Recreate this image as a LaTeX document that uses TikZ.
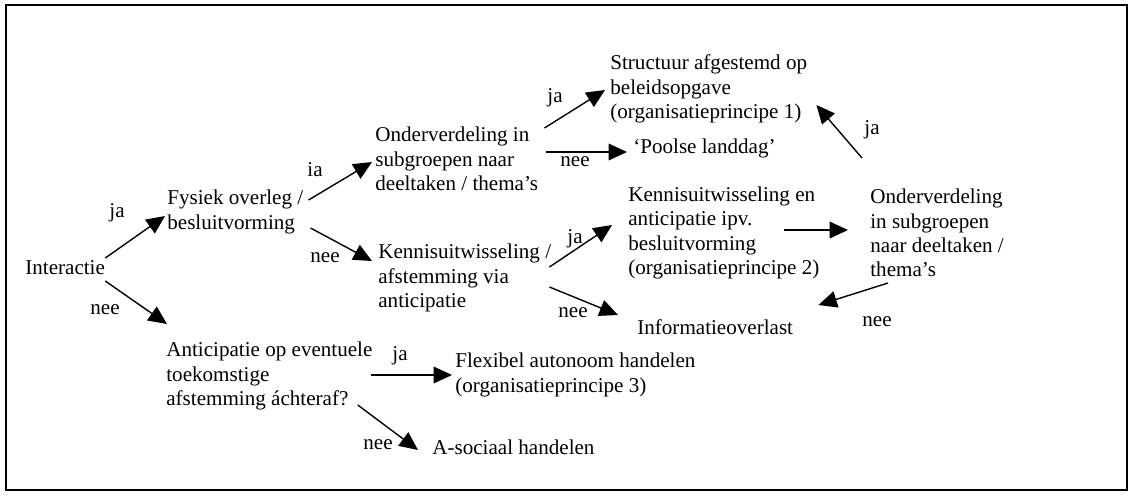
\documentclass[tikz,border=0pt]{standalone}
\usepackage{fontspec}
\setmainfont{Liberation Serif}
\usetikzlibrary{arrows.meta, calc}
\tikzset{
  txt/.style={anchor=west, inner sep=0pt, align=left, font=\fontsize{12}{13.9}\selectfont},
  lab/.style={inner sep=0pt, font=\fontsize{12}{13.9}\selectfont},
  arr/.style={-{Triangle[length=10.5pt,width=9.5pt]}, line width=0.8pt},
  frame/.style={line width=1.1pt}
}

\begin{document}
\begin{tikzpicture}[x=0.02cm, y=-0.02cm]
  \useasboundingbox (0,0) rectangle (1132,495);
  \draw[frame] (6,5) rectangle (1127,490);

  % steps of the decision tree
  \node[txt] (int)  at (25,268)  {Interactie};
  \node[txt] (fys)  at (167,212) {Fysiek overleg /\\besluitvorming};
  \node[txt] (ond)  at (375,159) {Onderverdeling in\\subgroepen naar\\deeltaken / thema’s};
  \node[txt] (str)  at (610,89)  {Structuur afgestemd op\\beleidsopgave\\(organisatieprincipe 1)};
  \node[txt] (poo)  at (633,148) {‘Poolse landdag’};
  \node[txt] (ken)  at (378,278) {Kennisuitwisseling /\\afstemming via\\anticipatie};
  \node[txt] (ken2) at (628,233) {Kennisuitwisseling en\\anticipatie ipv.\\besluitvorming\\(organisatieprincipe 2)};
  \node[txt] (ond2) at (870,233) {Onderverdeling\\in subgroepen\\naar deeltaken /\\thema’s};
  \node[txt] (inf)  at (637,327) {Informatieoverlast};
  \node[txt] (ant)  at (166,376) {Anticipatie op eventuele\\toekomstige\\afstemming áchteraf?};
  \node[txt] (flx)  at (455,375) {Flexibel autonoom handelen\\(organisatieprincipe 3)};
  \node[txt] (aso)  at (432,447) {A-sociaal handelen};

  % answers
  \node[lab] (l1)  at (117,213) {ja};
  \node[lab] (l2)  at (105,310) {nee};
  \node[lab] (l3)  at (315,170) {ia};
  \node[lab] (l4)  at (325,258) {nee};
  \node[lab] (l5)  at (555,98)  {ja};
  \node[lab] (l6)  at (575,162) {nee};
  \node[lab] (l7)  at (575,239) {ja};
  \node[lab] (l8)  at (573,313) {nee};
  \node[lab] (l9)  at (872,130) {ja};
  \node[lab] (l10) at (877,322) {nee};
  \node[lab] (l11) at (400,356) {ja};
  \node[lab] (l12) at (378,445) {nee};

  % arrows
  \draw[arr] ($(int.east)+(0,-10)$) -- ($(fys.west)+(-2,4)$);
  \draw[arr] ($(int.east)+(0,13)$) -- ($(ant.west)+(1,-52)$);
  \draw[arr] ($(fys.east)+(5,-12)$) -- ($(ond.west)+(-3,3)$);
  \draw[arr] ($(fys.east)+(7,16)$) -- ($(ken.west)+(-6,-17)$);
  \draw[arr] ($(ond.east)+(6,-31)$) -- ($(str.west)+(-5,1)$);
  \draw[arr] ($(ond.east)+(8,-7)$) -- ($(poo.west)+(-6,4)$);
  \draw[arr] ($(ken.east)+(-2,-11)$) -- ($(ken2.west)+(-16,-8)$);
  \draw[arr] ($(ken.east)+(-2,9)$) -- ($(inf.west)+(-19,-12)$);
  \draw[arr] ($(ken2.east)+(-36,-3)$) -- ($(ond2.west)+(-22,-3)$);
  \draw[arr] ($(ond2.west)+(-8,-75)$) -- ($(str.east)+(9,16)$);
  \draw[arr] ($(ond2.west)+(18,50)$) -- ($(inf.east)+(25,-22)$);
  \draw[arr] ($(ant.east)+(-2,-1)$) -- ($(flx.west)+(-3,0)$);
  \draw[arr] ($(ant.east)+(-15,29)$) -- ($(aso.west)+(-14,3)$);
\end{tikzpicture}
\end{document}
